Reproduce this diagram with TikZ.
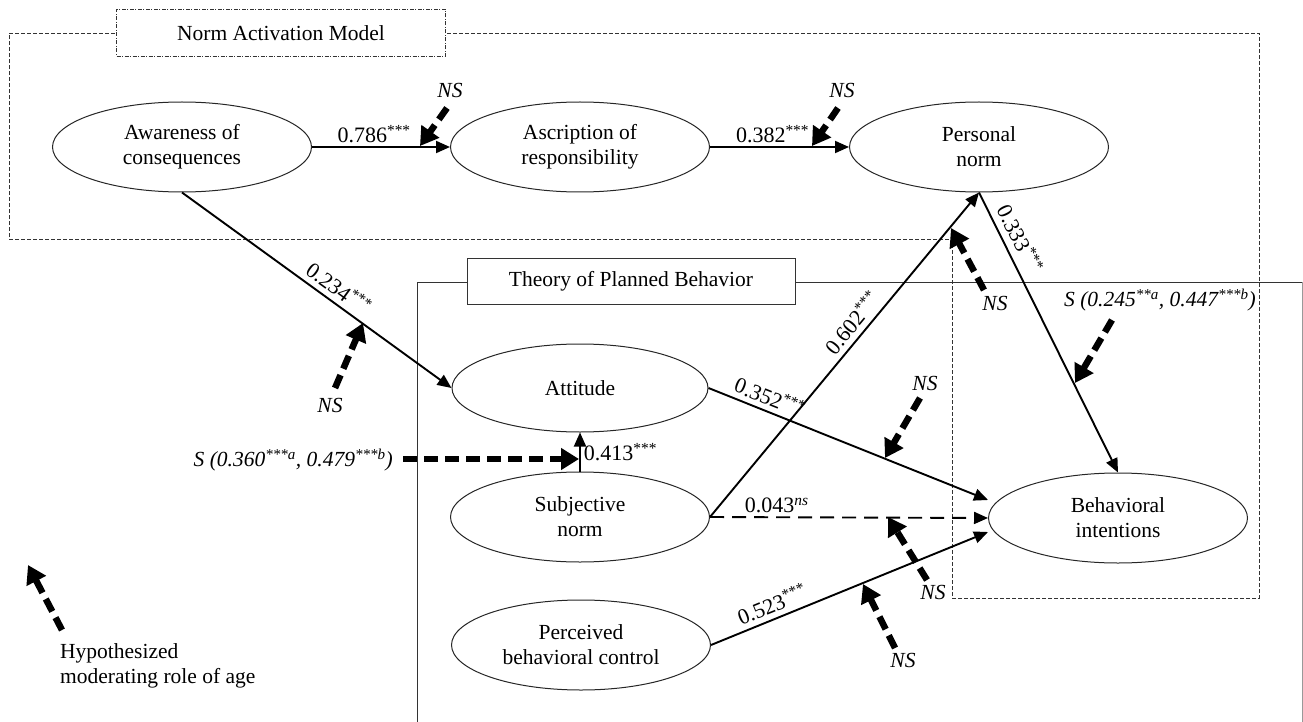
\documentclass[tikz,border=0pt]{standalone}
\usepackage{fontspec}
\setmainfont{Liberation Serif}
\usetikzlibrary{arrows.meta,shapes.geometric}
\begin{document}
\begin{tikzpicture}[x=1pt,y=-1pt,
  every node/.style={font=\fontsize{21.5pt}{25pt}\selectfont},
  latent/.style={ellipse, draw=black!85, line width=1pt, minimum width=259pt,
    minimum height=90pt, inner sep=0pt, align=center},
  pathar/.style={line width=1.9pt, -{Triangle[length=14pt,width=12pt]}},
  nsar/.style={pathar, dash pattern=on 14pt off 8pt},
  modar/.style={line width=6.5pt, dash pattern=on 14pt off 7pt,
    -{Triangle[length=18pt,width=21pt]}},
  modlab/.style={font=\fontsize{21.5pt}{25pt}\selectfont\itshape, inner sep=1pt},
  elab/.style={font=\fontsize{22pt}{25pt}\selectfont, inner sep=3pt},
  slab/.style={elab, sloped, above, inner sep=5pt},
  framedash/.style={line width=0.8pt, draw=black!80, dash pattern=on 4pt off 2pt},
]
\useasboundingbox (0,0) rectangle (1303,722);

% frames
\draw[framedash] (9,33) -- (1259,33) -- (1259,598) -- (952,598) -- (952,239) -- (9,239) -- cycle;
\draw[line width=0.8pt, black!80] (417,722) -- (417,282) -- (1303,282);
\draw[line width=0.8pt, black!40] (1302,282) -- (1302,722);
\node[draw=black!80, line width=0.8pt, dash pattern=on 4pt off 1.5pt on 1pt off 1.5pt,
  fill=white, minimum width=329pt, minimum height=47pt, inner sep=0pt] (nam) at (281,33) {Norm Activation Model};
\node[draw=black!80, line width=0.8pt, fill=white, minimum width=328pt,
  minimum height=46pt, inner sep=0pt] (tpb) at (631,281) {Theory of Planned Behavior};

% constructs
\node[latent] (ac)  at (182,147) {Awareness of\\consequences};
\node[latent] (ar)  at (580,147) {Ascription of\\responsibility};
\node[latent] (pn)  at (979,147) {Personal\\norm};
\node[latent, minimum width=256pt, minimum height=88pt] (att) at (580,388) {Attitude};
\node[latent] (sn)  at (580,517) {Subjective\\norm};
\node[latent] (pbc) at (581,645) {Perceived\\behavioral control};
\node[latent] (bi)  at (1118,518) {Behavioral\\intentions};

% structural paths
\draw[pathar] (ac.east) -- node[elab, above, pos=0.45] (l786) {0.786\textsuperscript{***}} (ar.west);
\draw[pathar] (ar.east) -- node[elab, above, pos=0.45] (l382) {0.382\textsuperscript{***}} (pn.west);
\draw[pathar] (ac.south) -- node[slab, pos=0.55] (l234) {0.234\textsuperscript{***}} (att.west);
\draw[pathar] (sn.north) -- node[elab, right, pos=0.5] (l413) {0.413\textsuperscript{***}} (att.south);
\draw[pathar] (att.east) -- node[slab, pos=0.2] (l352) {0.352\textsuperscript{***}} ([yshift=18pt]bi.west);
\draw[nsar] (sn.east) -- node[elab, above, pos=0.24] (l043) {0.043\textsuperscript{\itshape ns}} (bi.west);
\draw[pathar] (sn.east) -- node[slab, pos=0.57] (l602) {0.602\textsuperscript{***}} (pn.south);
\draw[pathar] (pn.south) -- node[slab, pos=0.19, inner sep=7pt] (l333) {0.333\textsuperscript{***}} (bi.north);
\draw[pathar] (pbc.east) -- node[slab, pos=0.24] (l523) {0.523\textsuperscript{***}} ([yshift=-14pt]bi.west);

% moderator arrows
\coordinate (m1s) at (447,108);  \coordinate (m1e) at (420,146);
\coordinate (m2s) at (838,108);  \coordinate (m2e) at (812,146);
\coordinate (m3s) at (335,388);  \coordinate (m3e) at (363,323);
\coordinate (m4s) at (403,459);  \coordinate (m4e) at (579,459);
\coordinate (m5s) at (984,290);  \coordinate (m5e) at (951,228);
\coordinate (m6s) at (1112,320); \coordinate (m6e) at (1075,383);
\coordinate (m7s) at (920,398);  \coordinate (m7e) at (885,458);
\coordinate (m8s) at (927,580);  \coordinate (m8e) at (888,517);
\coordinate (m9s) at (895,648);  \coordinate (m9e) at (863,584);
\coordinate (lgs) at (62,630);   \coordinate (lge) at (28,565);
\foreach \i in {1,...,9}{\draw[modar] (m\i s) -- (m\i e);}
\draw[modar] (lgs) -- (lge);

\node[modlab] (ns1) at (450,90) {NS};
\node[modlab] (ns2) at (842,90) {NS};
\node[modlab] (ns3) at (330,405) {NS};
\node[modlab] (ns5) at (995,303) {NS};
\node[modlab] (ns7) at (925,383) {NS};
\node[modlab] (ns8) at (933,592) {NS};
\node[modlab] (ns9) at (903,660) {NS};
\node[modlab, anchor=east] (s4) at (394,460) {S (0.360\textsuperscript{***a}, 0.479\textsuperscript{***b})};
\node[modlab] (s6) at (1160,300) {S (0.245\textsuperscript{**a}, 0.447\textsuperscript{***b})};

% legend
\node[anchor=west, align=left, inner sep=0pt] (legend) at (60,666) {Hypothesized\\moderating role of age};
\end{tikzpicture}
\end{document}
